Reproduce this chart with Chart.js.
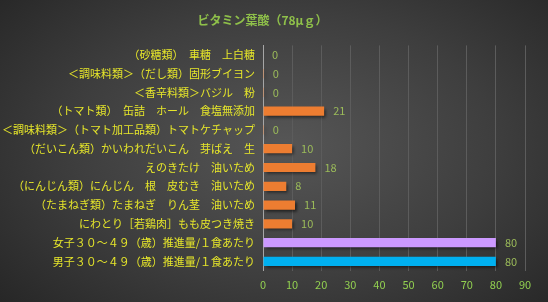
<!DOCTYPE html>
<html>
<head>
<meta charset="utf-8">
<script src="https://cdn.jsdelivr.net/npm/chart.js@4"></script>
<style>
  html, body { margin: 0; padding: 0; }
  body {
    width: 548px; height: 302px; overflow: hidden;
    background: radial-gradient(ellipse 70% 80% at 52% 48%, #565656 0%, #3e3e3e 55%, #262626 100%);
  }
  #wrap { position: relative; width: 548px; height: 302px; }
</style>
</head>
<body>
<div id="wrap"><canvas id="barChart" width="548" height="302"></canvas></div>
<script>
// categories, top to bottom
var foods = [
  "（砂糖類）　車糖　上白糖",
  "＜調味料類＞（だし類）固形ブイヨン",
  "＜香辛料類＞バジル　粉",
  "（トマト類）　缶詰　ホール　食塩無添加",
  "＜調味料類＞（トマト加工品類）トマトケチャップ",
  "（だいこん類）かいわれだいこん　芽ばえ　生",
  "えのきたけ　油いため",
  "（にんじん類）にんじん　根　皮むき　油いため",
  "（たまねぎ類）たまねぎ　りん茎　油いため",
  "にわとり［若鶏肉］もも皮つき焼き",
  "女子３０～４９（歳）推進量/１食あたり",
  "男子３０～４９（歳）推進量/１食あたり"
];
var folate = [0, 0.3, 0.3, 21, 0.3, 10, 18, 8, 11, 10, 80, 80];
var shown = ["0", "0", "0", "21", "0", "10", "18", "8", "11", "10", "80", "80"];
var barColors = ["#ed7d31", "#ed7d31", "#ed7d31", "#ed7d31", "#ed7d31", "#ed7d31",
                 "#ed7d31", "#ed7d31", "#ed7d31", "#ed7d31", "#cc99ff", "#00b0f0"];
var xTicks = [0, 10, 20, 30, 40, 50, 60, 70, 80, 90];

var jp = "'Noto Sans CJK JP', 'Noto Sans', sans-serif";

// soft shadow under the bars, like the spreadsheet look
var barShadow = {
  id: "barShadow",
  beforeDatasetsDraw: function (chart) {
    var ctx = chart.ctx;
    ctx.save();
    ctx.shadowColor = "rgba(0,0,0,0.55)";
    ctx.shadowBlur = 3;
    ctx.shadowOffsetX = 2;
    ctx.shadowOffsetY = 2;
  },
  afterDatasetsDraw: function (chart) {
    chart.ctx.restore();
  }
};

var valueLabels = {
  id: "valueLabels",
  afterDatasetsDraw: function (chart) {
    var ctx = chart.ctx;
    var meta = chart.getDatasetMeta(0);
    ctx.save();
    ctx.font = "11px " + jp;
    ctx.fillStyle = "#9bbb59";
    ctx.textAlign = "left";
    ctx.textBaseline = "middle";
    meta.data.forEach(function (bar, i) {
      ctx.fillText(shown[i], bar.x + 9, bar.y);
    });
    ctx.restore();
  }
};

new Chart(document.getElementById("barChart"), {
  type: "bar",
  data: {
    labels: foods,
    datasets: [{
      data: folate,
      backgroundColor: barColors,
      borderWidth: 0,
      barPercentage: 0.49,
      categoryPercentage: 1
    }]
  },
  options: {
    indexAxis: "y",
    responsive: false,
    animation: false,
    layout: { padding: { left: 0, right: 23, top: 0, bottom: 4 } },
    plugins: {
      legend: { display: false },
      tooltip: { enabled: false },
      title: {
        display: true,
        text: "ビタミン葉酸（78μｇ）",
        color: "#8fc04a",
        font: { family: jp, size: 12, weight: "bold" },
        padding: { top: 13, bottom: 18 }
      }
    },
    scales: {
      x: {
        min: 0,
        max: 90,
        afterBuildTicks: function (s) {
          s.ticks = xTicks.map(function (v) { return { value: v }; });
        },
        grid: { color: "#5c5c5c", drawTicks: false, lineWidth: 1 },
        border: { display: false },
        ticks: {
          color: "#92d050",
          padding: 7,
          font: { family: jp, size: 11 }
        }
      },
      y: {
        afterFit: function (s) { s.width = 263; },
        grid: { display: false, drawTicks: false },
        border: { display: true, color: "#a6a6a6", width: 1 },
        ticks: {
          color: "#e6e62a",
          padding: 8,
          autoSkip: false,
          font: { family: jp, size: 11 }
        }
      }
    }
  },
  plugins: [barShadow, valueLabels]
});
</script>
</body>
</html>
